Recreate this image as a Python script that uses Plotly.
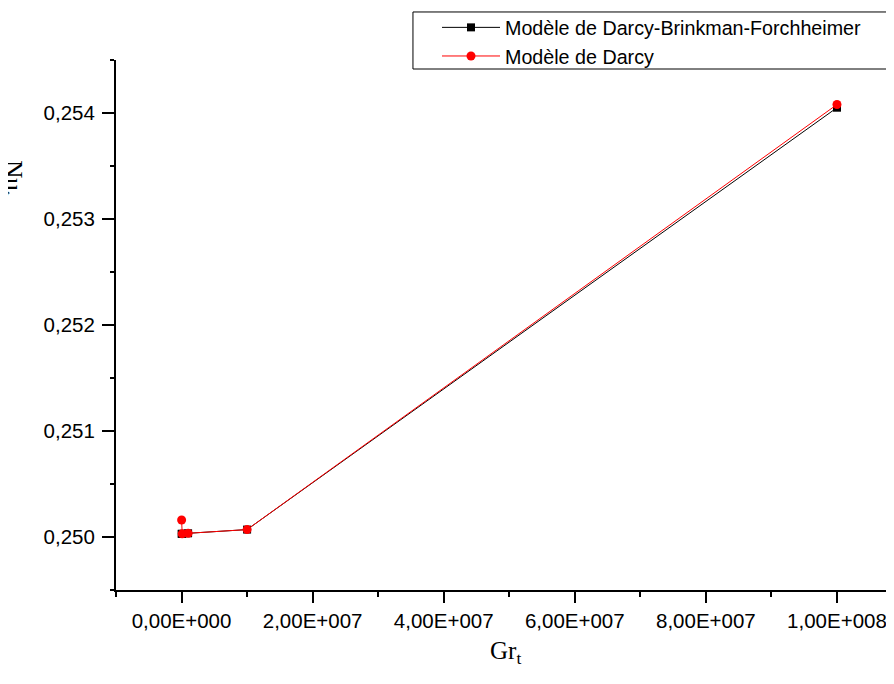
"""
Nu_t versus Gr_t: Darcy-Brinkman-Forchheimer model vs Darcy model
"""

import plotly.graph_objects as go

# data
gr_t = [1e4, 1e5, 1e6, 1e7, 1e8]
nu_dbf = [0.25003, 0.25003, 0.250035, 0.25007, 0.25405]
nu_darcy = [0.25016, 0.25003, 0.250035, 0.25007, 0.25408]

x_tickvals = [0, 2e7, 4e7, 6e7, 8e7, 1e8]
x_ticktext = ['0,00E+000', '2,00E+007', '4,00E+007', '6,00E+007', '8,00E+007', '1,00E+008']
x_minor = [-1e7, 1e7, 3e7, 5e7, 7e7, 9e7]

y_tickvals = [0.250, 0.251, 0.252, 0.253, 0.254]
y_ticktext = ['0,250', '0,251', '0,252', '0,253', '0,254']
y_minor = [0.2495, 0.2505, 0.2515, 0.2525, 0.2535, 0.2545]

fig = go.Figure()

fig.add_trace(go.Scatter(
    x=gr_t, y=nu_dbf,
    name='Modèle de Darcy-Brinkman-Forchheimer',
    mode='lines+markers',
    line=dict(color='black', width=1),
    marker=dict(symbol='square', size=8, color='black')
))

fig.add_trace(go.Scatter(
    x=gr_t, y=nu_darcy,
    name='Modèle de Darcy',
    mode='lines+markers',
    line=dict(color='#ff0000', width=1),
    marker=dict(symbol='circle', size=9, color='#ff0000')
))

# the page body has an 8px margin, so the figure is 8px smaller than the window
fig.update_layout(
    width=886,
    height=676,
    paper_bgcolor='white',
    plot_bgcolor='white',
    margin=dict(l=108, r=0, t=52, b=94),
    showlegend=True,
    legend=dict(
        x=0.4126, xanchor='left',
        y=1.098, yanchor='top',
        bgcolor='rgba(0,0,0,0)',
        borderwidth=0,
        itemwidth=58,
        font=dict(family='Liberation Sans, Arial', size=19.7, color='black'),
        tracegroupgap=0
    ),
    # legend frame, wider than plotly's own box
    shapes=[
        dict(type='rect', xref='paper', yref='paper',
             x0=0.3817, x1=0.9974, y0=0.983, y1=1.0906,
             line=dict(color='black', width=1), fillcolor='white', layer='above')
    ],
    xaxis=dict(
        range=[-1e7, 1.087e8],
        showgrid=False, zeroline=False,
        showline=True, linecolor='black', linewidth=2,
        ticks='outside', ticklen=11, tickwidth=2, tickcolor='black',
        tickmode='array', tickvals=x_tickvals, ticktext=x_ticktext,
        tickfont=dict(family='Liberation Sans, Arial', size=20.5, color='black'),
        minor=dict(tickmode='array', tickvals=x_minor, ticks='outside',
                   ticklen=5, tickwidth=2, tickcolor='black', showgrid=False)
    ),
    yaxis=dict(
        range=[0.2495, 0.2545],
        showgrid=False, zeroline=False,
        showline=True, linecolor='black', linewidth=2,
        ticks='outside', ticklen=12, tickwidth=2, tickcolor='black',
        ticklabelstandoff=3,
        tickmode='array', tickvals=y_tickvals, ticktext=y_ticktext,
        tickfont=dict(family='Liberation Sans, Arial', size=20.5, color='black'),
        minor=dict(tickmode='array', tickvals=y_minor, ticks='outside',
                   ticklen=4, tickwidth=2, tickcolor='black', showgrid=False)
    ),
    annotations=[
        dict(text='Gr<sub>t</sub>', xref='paper', yref='paper',
             x=0.5, y=-0.117, xanchor='center', yanchor='middle',
             showarrow=False,
             font=dict(family='Liberation Serif, Times New Roman', size=25, color='black')),
        dict(text='Nu<sub>t</sub>', xref='paper', yref='paper',
             x=-0.1337, y=0.777, xanchor='center', yanchor='middle',
             textangle=90, showarrow=False,
             font=dict(family='Liberation Serif, Times New Roman', size=25, color='black')),
    ]
)

fig.write_html("out.html")
